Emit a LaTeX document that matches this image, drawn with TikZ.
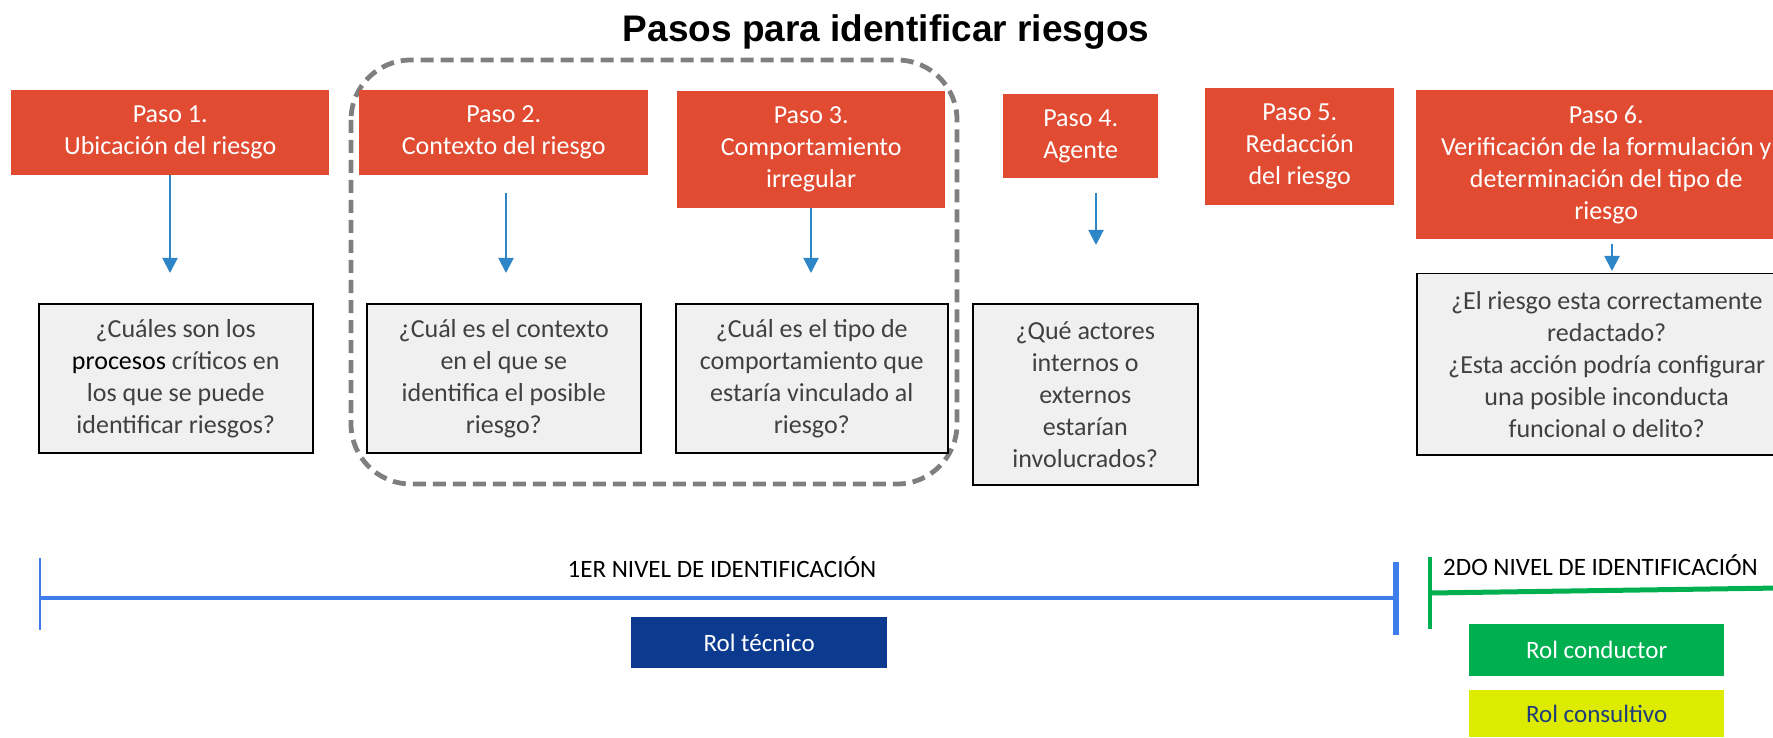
\documentclass[tikz,border=0pt]{standalone}
\usepackage{fontspec}
\setmainfont{Carlito}
\newfontfamily\titlefont{Liberation Sans}
\usetikzlibrary{arrows.meta}
\definecolor{stepred}{HTML}{E04B32}
\definecolor{qfill}{HTML}{F0F0F0}
\definecolor{qtext}{HTML}{404040}
\definecolor{arrblue}{HTML}{2E86C8}
\definecolor{dashgray}{HTML}{7F7F7F}
\definecolor{lineblue}{HTML}{3D7EEA}
\definecolor{linegreen}{HTML}{00B050}
\definecolor{tecblue}{HTML}{0B3A8F}
\definecolor{consyellow}{HTML}{DCEB00}
\definecolor{constext}{HTML}{1F3D7A}
\newcommand{\bodyfs}{\fontsize{26}{32}\selectfont}
\tikzset{
  stepbox/.style={fill=stepred, text=white, inner sep=0pt, align=center, font=\bodyfs, anchor=north west},
  qbox/.style={fill=qfill, draw=black, line width=1.5pt, text=qtext, inner sep=0pt, align=center, font=\bodyfs, anchor=north west},
  rolbox/.style={inner sep=0pt, align=center, font=\fontsize{25}{30}\selectfont, anchor=north west},
  flow/.style={draw=arrblue, line width=2pt, -{Triangle[width=15pt,length=15pt]}},
  lvl/.style={font=\fontsize{25}{30}\selectfont, text=black, inner sep=0pt}
}
\begin{document}
\begin{tikzpicture}[x=1pt,y=-1pt]
\useasboundingbox (0,0) rectangle (1773,738);
% title
\node[font=\titlefont\bfseries\fontsize{37}{44}\selectfont, anchor=base, inner sep=0pt] (title) at (886,42) {Pasos para identificar riesgos};
% dashed group
\draw[dashgray, line width=4.8pt, dash pattern=on 13pt off 7pt, rounded corners=60pt] (351,60) rectangle (957,484);
% step boxes
\node[stepbox, minimum width=318pt, minimum height=85pt] (r1) at (11,90) {Paso 1.\\Ubicación del riesgo};
\node[stepbox, minimum width=289pt, minimum height=85pt] (r2) at (359,90) {Paso 2.\\Contexto del riesgo};
\node[stepbox, minimum width=268pt, minimum height=117pt] (r3) at (677,91) {Paso 3.\\Comportamiento\\irregular};
\node[stepbox, minimum width=155pt, minimum height=84pt] (r4) at (1003,94) {Paso 4.\\Agente};
\node[stepbox, minimum width=189pt, minimum height=117pt] (r5) at (1205,88) {Paso 5.\\Redacción\\del riesgo};
\node[stepbox, minimum width=380pt, minimum height=149pt] (r6) at (1416,90) {Paso 6.\\Verificación de la formulación y\\determinación del tipo de\\riesgo};
% question boxes
\node[qbox, minimum width=274pt, minimum height=149pt] (q1) at (38,303) {¿Cuáles son los\\{\color{black}procesos} críticos en\\los que se puede\\identificar riesgos?};
\node[qbox, minimum width=274pt, minimum height=149pt] (q2) at (366,303) {¿Cuál es el contexto\\en el que se\\identifica el posible\\riesgo?};
\node[qbox, minimum width=272pt, minimum height=149pt] (q3) at (675,303) {¿Cuál es el tipo de\\comportamiento que\\estaría vinculado al\\riesgo?};
\node[qbox, minimum width=225pt, minimum height=181pt] (q4) at (972,303) {¿Qué actores\\internos o\\externos\\estarían\\involucrados?};
\node[qbox, minimum width=380pt, minimum height=181pt] (q6) at (1416,273) {¿El riesgo esta correctamente\\redactado?\\¿Esta acción podría configurar\\una posible inconducta\\funcional o delito?};
% arrows
\coordinate (a1s) at (170,175); \coordinate (a1e) at (170,273);
\coordinate (a2s) at (506,193); \coordinate (a2e) at (506,273);
\coordinate (a3s) at (811,208); \coordinate (a3e) at (811,273);
\coordinate (a4s) at (1096,193); \coordinate (a4e) at (1096,245);
\coordinate (a6s) at (1612,244); \coordinate (a6e) at (1612,271);
\draw[flow] (a1s) -- (a1e);
\draw[flow] (a2s) -- (a2e);
\draw[flow] (a3s) -- (a3e);
\draw[flow] (a4s) -- (a4e);
\draw[flow] (a6s) -- (a6e);
% first level timeline
\coordinate (b1) at (40,598); \coordinate (b2) at (1396,598);
\draw[lineblue, line width=4pt] (b1) -- (b2);
\draw[lineblue, line width=2pt] (40,558) -- (40,630);
\draw[lineblue, line width=6pt] (1396,562) -- (1396,635);
\node[lvl] (lvl1) at (722,567) {1ER NIVEL DE IDENTIFICACIÓN};
% second level timeline
\coordinate (g1) at (1430,593); \coordinate (g2) at (1780,588);
\draw[linegreen, line width=5pt] (g1) -- (g2);
\draw[linegreen, line width=4pt] (1430,557) -- (1430,629);
\node[lvl, anchor=west] (lvl2) at (1443,565) {2DO NIVEL DE IDENTIFICACIÓN};
% roles
\node[rolbox, fill=tecblue, text=white, minimum width=256pt, minimum height=51pt] (rt) at (631,617) {Rol técnico};
\node[rolbox, fill=linegreen, text=white, minimum width=255pt, minimum height=52pt] (rc) at (1469,624) {Rol conductor};
\node[rolbox, fill=consyellow, text=constext, minimum width=255pt, minimum height=47pt] (rv) at (1469,690) {Rol consultivo};
\end{tikzpicture}
\end{document}
